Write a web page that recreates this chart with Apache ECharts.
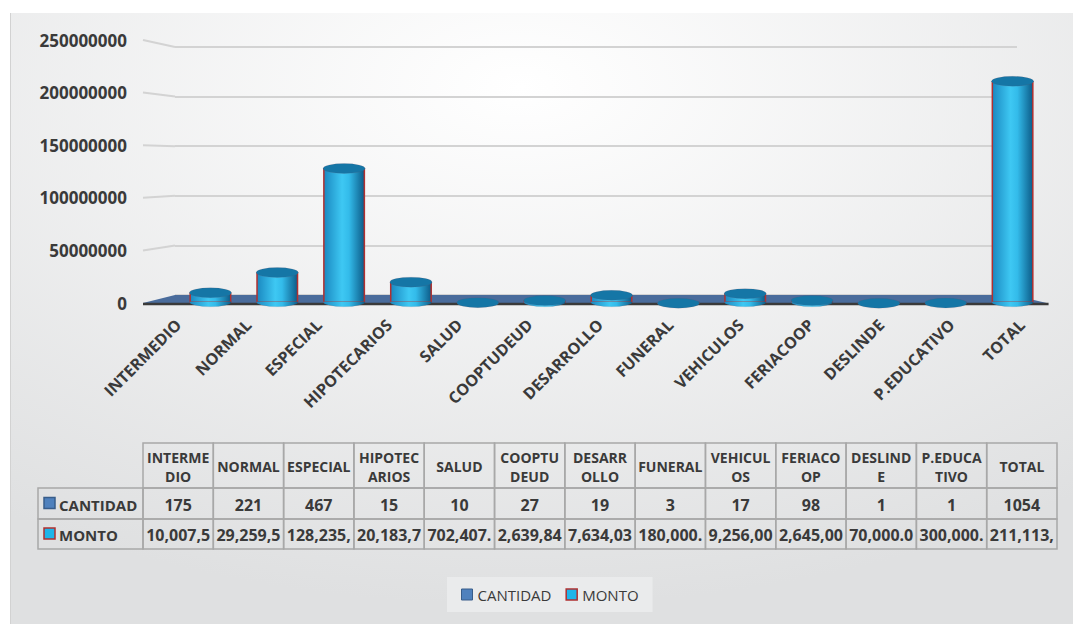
<!DOCTYPE html>
<html>
<head>
<meta charset="utf-8">
<script src="https://cdn.jsdelivr.net/npm/echarts@6/dist/echarts.min.js"></script>
<style>
  html, body { margin: 0; padding: 0; background: #fff; }
  #main { width: 1073px; height: 624px; }
</style>
</head>
<body>
<div id="main"></div>
<script>
  // datos del grafico
  var categories = ['INTERMEDIO', 'NORMAL', 'ESPECIAL', 'HIPOTECARIOS', 'SALUD', 'COOPTUDEUD', 'DESARROLLO', 'FUNERAL', 'VEHICULOS', 'FERIACOOP', 'DESLINDE', 'P.EDUCATIVO', 'TOTAL'];
  var headerLabels = ['INTERME\nDIO', 'NORMAL', 'ESPECIAL', 'HIPOTEC\nARIOS', 'SALUD', 'COOPTU\nDEUD', 'DESARR\nOLLO', 'FUNERAL', 'VEHICUL\nOS', 'FERIACO\nOP', 'DESLIND\nE', 'P.EDUCA\nTIVO', 'TOTAL'];
  var cantidad = [175, 221, 467, 15, 10, 27, 19, 3, 17, 98, 1, 1, 1054];
  var monto = [10007500, 29259500, 128235000, 20183700, 702407, 2639840, 7634030, 180000, 9256000, 2645000, 70000, 300000, 211113000];
  var yMax = 250000000;
  var yStep = 50000000;

  var FONT = '"Open Sans", "DejaVu Sans", sans-serif';
  var TXT = '#3a3a3a';
  var BORDER = '#a8a8a8';

  // el texto de la tabla sale cortado como en la hoja
  function montoText(v) {
    return v.toLocaleString('en-US', { minimumFractionDigits: 2, maximumFractionDigits: 2 }).slice(0, 8);
  }

  var ellipse = 'path://M0 10A20 10 0 1 1 40 10A20 10 0 1 1 0 10Z';
  var halfEllipse = 'path://M0 0A20 10 0 0 0 40 0';   // solo el arco de abajo
  var cylFill = new echarts.graphic.LinearGradient(0, 0, 1, 0, [
    { offset: 0, color: '#1a88c0' },
    { offset: 0.45, color: '#3ec8f3' },
    { offset: 0.62, color: '#33bbea' },
    { offset: 1, color: '#0c5b88' }
  ]);

  // tabla debajo del grafico
  var rows = [[443, 488], [488, 519], [519, 549]];
  function renderTable(params, api) {
    var i = params.dataIndex;
    var x = api.coord([api.value(0), 0])[0];
    var w = api.size([1, 0])[0];
    var l = x - w / 2;
    var texts = [headerLabels[i], String(cantidad[i]), montoText(monto[i])];
    var children = [];
    rows.forEach(function (r, k) {
      children.push({
        type: 'rect',
        shape: { x: l, y: r[0], width: w, height: r[1] - r[0] },
        style: { fill: 'none', stroke: BORDER, lineWidth: 1.5 }
      });
      children.push({
        type: 'text',
        style: {
          text: texts[k], x: x, y: (r[0] + r[1]) / 2 + 1,
          align: 'center', verticalAlign: 'middle',
          font: 'bold ' + (k === 0 ? 14 : 16) + 'px ' + FONT,
          lineHeight: 19, fill: TXT
        }
      });
    });
    return { type: 'group', children: children };
  }

  var dom = document.getElementById('main');
  var myChart = echarts.init(dom, null, { renderer: 'svg' });

  myChart.setOption({
    animation: false,
    textStyle: { fontFamily: FONT },
    grid: [
      { left: 177, right: 27, top: 40, height: 263 },   // barras + etiquetas Y
      { left: 175, right: 56, top: 47, height: 248 },   // lineas de fondo
      { left: 143, right: 16, top: 300, height: 12 }    // etiquetas X + tabla
    ],
    xAxis: [
      { gridIndex: 0, type: 'category', data: categories, show: false },
      { gridIndex: 1, type: 'category', data: categories, show: false },
      {
        gridIndex: 2, type: 'category', data: categories, position: 'bottom',
        axisLine: { show: false }, axisTick: { show: false },
        axisLabel: { interval: 0, rotate: 45, margin: 10, fontWeight: 'bold', fontSize: 16, color: TXT, fontFamily: FONT }
      }
    ],
    yAxis: [
      {
        gridIndex: 0, type: 'value', min: 0, max: yMax, interval: yStep,
        axisLine: { show: false }, axisTick: { show: false }, splitLine: { show: false },
        axisLabel: {
          margin: 50, fontWeight: 'bold', fontSize: 17, color: TXT, fontFamily: FONT,
          formatter: function (value) { return String(value); }
        }
      },
      {
        gridIndex: 1, type: 'value', min: 0, max: yMax, interval: yStep,
        axisLine: { show: false }, axisTick: { show: false }, axisLabel: { show: false },
        splitLine: { lineStyle: { color: '#d3d3d3', width: 2 } }
      },
      { gridIndex: 2, type: 'value', min: 0, max: 1, show: false }
    ],
    legend: {
      left: 447, top: 577,
      padding: [10, 14, 10, 14],
      backgroundColor: '#eaebec',
      itemWidth: 11, itemHeight: 11, itemGap: 14,
      icon: 'rect',
      textStyle: { fontSize: 15, color: TXT, fontFamily: FONT },
      data: [
        { name: 'CANTIDAD', itemStyle: { color: '#4f81bd', borderColor: '#385d8a', borderWidth: 1 } },
        { name: 'MONTO', itemStyle: { color: '#1fb5ea', borderColor: '#b03030', borderWidth: 1.5 } }
      ]
    },
    series: [
      {
        name: 'CANTIDAD', type: 'bar', xAxisIndex: 0, yAxisIndex: 0,
        barWidth: 42, data: cantidad, z: 2,
        itemStyle: { color: '#4f81bd' }
      },
      {
        name: 'MONTO', type: 'bar', xAxisIndex: 0, yAxisIndex: 0,
        barWidth: 42, barGap: '-100%', data: monto, z: 3,
        itemStyle: { color: cylFill, borderColor: '#b03030', borderWidth: 1.5 }
      },
      {
        name: 'monto-base', type: 'pictorialBar', xAxisIndex: 0, yAxisIndex: 0,
        symbol: halfEllipse, symbolSize: [42, 5], symbolPosition: 'start', symbolOffset: [0, 4],
        data: monto, z: 4, silent: true,
        itemStyle: { color: cylFill, borderColor: '#b03030', borderWidth: 1.5 }
      },
      {
        name: 'monto-top', type: 'pictorialBar', xAxisIndex: 0, yAxisIndex: 0,
        symbol: ellipse, symbolSize: [42, 10], symbolPosition: 'end', symbolOffset: [0, '-50%'],
        data: monto, z: 5, silent: true,
        itemStyle: { color: '#1576a6', borderColor: '#b03030', borderWidth: 1.5 }
      },
      {
        name: 'tabla', type: 'custom', xAxisIndex: 2, yAxisIndex: 2,
        data: categories.map(function (c, i) { return [i, 0]; }),
        renderItem: renderTable, silent: true, clip: false
      }
    ]
  });

  // adornos: fondo, piso 3D, lineas inclinadas y cabecera de filas
  var y0 = function (v) { return myChart.convertToPixel({ yAxisIndex: 0 }, v); };
  var y1 = function (v) { return myChart.convertToPixel({ yAxisIndex: 1 }, v); };
  var gridL = 143, wallL = 175;
  var lastX = myChart.convertToPixel({ xAxisIndex: 0 }, categories.length - 1);
  var graphics = [
    {
      type: 'rect', z: -10, silent: true,
      shape: { x: 10, y: 13, width: 1063, height: 611 },
      style: {
        fill: new echarts.graphic.RadialGradient(0.48, 0.12, 0.85, [
          { offset: 0, color: '#ffffff' },
          { offset: 1, color: '#dfe0e1' }
        ])
      }
    },
    { type: 'line', z: -9, silent: true, shape: { x1: 10.5, y1: 13, x2: 10.5, y2: 624 }, style: { stroke: '#d2d2d2', lineWidth: 1 } }
  ];
  for (var v = yStep; v <= yMax; v += yStep) {
    graphics.push({
      type: 'line', z: -1, silent: true,
      shape: { x1: gridL, y1: y0(v), x2: wallL, y2: y1(v) },
      style: { stroke: '#d3d3d3', lineWidth: 2 }
    });
  }
  graphics.push({
    type: 'polygon', z: 1, silent: true,
    shape: { points: [[gridL, y0(0)], [wallL, y1(0)], [lastX, y1(0)], [lastX + 34, y0(0)]] },
    style: { fill: '#4a6c9c' }
  });
  graphics.push({
    type: 'line', z: 1, silent: true,
    shape: { x1: gridL, y1: y0(0) + 1, x2: lastX + 36, y2: y0(0) + 1 },
    style: { stroke: '#3a3a3a', lineWidth: 2.5 }
  });
  // columna de nombres de fila
  var rowNames = ['CANTIDAD', 'MONTO'];
  var rowColors = [['#4f81bd', '#385d8a'], ['#1fb5ea', '#b03030']];
  rowNames.forEach(function (n, k) {
    var r = rows[k + 1];
    var cy = (r[0] + r[1]) / 2;
    graphics.push({
      type: 'rect', silent: true,
      shape: { x: 38, y: r[0], width: gridL - 38, height: r[1] - r[0] },
      style: { fill: 'none', stroke: BORDER, lineWidth: 1.5 }
    });
    graphics.push({
      type: 'rect', silent: true,
      shape: { x: 44, y: cy - 6, width: 11, height: 11 },
      style: { fill: rowColors[k][0], stroke: rowColors[k][1], lineWidth: 1.5 }
    });
    graphics.push({
      type: 'text', silent: true,
      style: { text: n, x: 59, y: cy + 1, verticalAlign: 'middle', font: 'bold 15px ' + FONT, fill: TXT }
    });
  });
  myChart.setOption({ graphic: graphics });
</script>
</body>
</html>
